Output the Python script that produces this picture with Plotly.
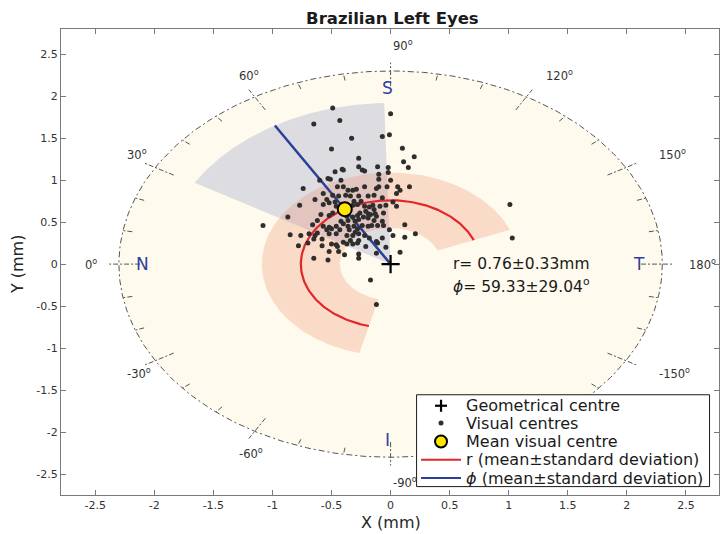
import numpy as np
import plotly.graph_objects as go

# ---------------- data (mm / degrees) ----------------
vis_x = [
    -0.49, 0.00, -0.65, -0.43, -0.07, -0.01, -0.33, -0.50, 0.10, -0.27,
    0.20, 0.11, -0.41, -0.40, -0.27, -0.24, -0.22, -0.11, -0.02, 0.15,
    -0.47, -0.53, -0.51, -0.42, -0.60, -0.10, -0.02, 0.00, -0.10, -0.74,
    -0.45, -0.40, -0.36, -0.32, -0.29, -0.22, -0.12, -0.10, -0.03, 0.06,
    0.16, 0.08, 0.05, -0.57, -0.49, -0.44, -0.38, -0.34, -0.27, -0.19,
    -0.14, -0.07, 0.02, 0.05, -0.64, -0.54, -0.52, -0.47, -0.31, -0.25,
    -0.77, -0.57, -0.46, -0.32, -0.28, -0.22, -0.18, -0.15, -0.09, -0.04,
    -0.14, -0.21, -0.26, -0.19, -0.17, -0.13, -0.12, -0.06, -0.87, -0.59,
    -0.49, -0.52, -0.37, -0.32, -0.28, -0.23, -0.19, -0.42, -0.36, -0.30,
    -0.27, -0.14, -0.07, -0.62, -1.08, -0.66, -0.57, -0.52, -0.46, -0.40,
    -0.36, -0.31, -0.24, -0.19, -0.16, -0.11, -0.06, 0.12, -0.54, -0.50,
    -0.43, -0.35, -0.28, -0.30, -0.01, 0.21, -0.85, -0.76, -0.69, -0.64,
    -0.62, -0.52, -0.46, -0.37, -0.32, -0.27, -0.22, 0.02, 0.12, -0.65,
    -0.58, -0.34, -0.27, -0.18, -0.12, -0.07, -0.40, -0.37, -0.32, -0.28,
    -0.70, -0.78, -0.58, -0.50, -0.46, -0.21, -0.11, -0.52, -0.44, -0.45,
    -0.04, -0.65, -0.53, -0.39, -0.27, -0.27, -0.12, 0.08, -0.17, -0.12,
    1.01, 1.03,
]
vis_y = [
    1.86, 1.79, 1.67, 1.71, 1.52, 1.54, 1.50, 1.37, 1.38, 1.26,
    1.28, 1.22, 1.13, 1.12, 1.16, 1.12, 1.11, 1.16, 1.15, 1.15,
    1.10, 1.02, 1.01, 1.00, 1.00, 1.07, 1.09, 1.00, 1.01, 0.90,
    0.92, 0.92, 0.88, 0.88, 0.89, 0.92, 0.90, 0.92, 0.92, 0.92,
    0.92, 0.88, 0.84, 0.84, 0.82, 0.81, 0.82, 0.81, 0.81, 0.81,
    0.82, 0.79, 0.74, 0.69, 0.77, 0.77, 0.73, 0.74, 0.75, 0.75,
    0.70, 0.71, 0.69, 0.70, 0.71, 0.69, 0.68, 0.70, 0.69, 0.70,
    0.65, 0.63, 0.61, 0.60, 0.59, 0.60, 0.57, 0.61, 0.56, 0.59,
    0.61, 0.58, 0.57, 0.56, 0.58, 0.56, 0.55, 0.51, 0.52, 0.51,
    0.53, 0.52, 0.51, 0.52, 0.46, 0.47, 0.45, 0.44, 0.45, 0.48,
    0.45, 0.45, 0.46, 0.45, 0.46, 0.46, 0.46, 0.47, 0.41, 0.42,
    0.41, 0.41, 0.42, 0.38, 0.41, 0.36, 0.35, 0.34, 0.36, 0.34,
    0.37, 0.36, 0.36, 0.34, 0.34, 0.36, 0.34, 0.34, 0.32, 0.30,
    0.30, 0.28, 0.28, 0.31, 0.27, 0.31, 0.26, 0.24, 0.24, 0.25,
    0.25, 0.22, 0.22, 0.24, 0.23, 0.21, 0.25, 0.15, 0.15, 0.21,
    0.20, 0.07, 0.05, 0.11, 0.12, 0.07, 0.13, 0.14, -0.19, -0.48,
    0.71, 0.31,
]

geo_centre_x = [0.0]
geo_centre_y = [0.0]
r_mean, r_sd = 0.76, 0.33
phi_mean, phi_sd = 59.33, 29.04
phi_span = [-76.0, 158.0]     # angular span of the visual centres (deg)
r_max = 1.92                  # largest radial distance of visual centres
outer_r = 2.3                 # reference circle

angle_tick_vals = [0, 30, 60, 90, 120, 150, 180, -150, -120, -90, -60, -30]
angle_tick_text = ["0", "30", "60", "90", "120", "150", "180",
                   "-150", "-120", "-90", "-60", "-30"]
quad_letters = ["S", "N", "T", "I"]
quad_angles = [90, 0, 180, -90]

title = "Brazilian Left Eyes"
legend_labels = ["Geometrical centre", "Visual centres", "Mean visual centre",
                 "r (mean\u00b1standard deviation)",
                 "<i>\u03d5</i> (mean\u00b1standard deviation)"]

FONT = "DejaVu Sans"

# angle convention: phi = 0 at left (nasal), 90 at top -> theta = 180 - phi
def pol(r, phi_deg):
    th = np.radians(180.0 - np.asarray(phi_deg, dtype=float))
    return np.asarray(r) * np.cos(th), np.asarray(r) * np.sin(th)

fig = go.Figure()

# cream disk
cx, cy = pol(outer_r, np.linspace(-180, 180, 361))
fig.add_trace(go.Scatter(x=cx, y=cy, mode="lines", fill="toself",
                         fillcolor="#fefaee", line=dict(width=0),
                         hoverinfo="skip", showlegend=False))

# angular sector (phi mean +/- sd) up to r_max
ph = np.linspace(phi_mean - phi_sd, phi_mean + phi_sd, 120)
wx, wy = pol(r_max, ph)
wx = np.concatenate([[0.0], wx, [0.0]])
wy = np.concatenate([[0.0], wy, [0.0]])
fig.add_trace(go.Scatter(x=wx, y=wy, mode="lines", fill="toself",
                         fillcolor="rgba(150,160,200,0.32)", line=dict(width=0),
                         hoverinfo="skip", showlegend=False))

# radial band (r mean +/- sd) over angular span
ph2 = np.linspace(phi_span[1], phi_span[0], 240)
ox, oy = pol(r_mean + r_sd, ph2)
ix, iy = pol(r_mean - r_sd, ph2[::-1])
fig.add_trace(go.Scatter(x=np.concatenate([ox, ix, ox[:1]]),
                         y=np.concatenate([oy, iy, oy[:1]]),
                         mode="lines", fill="toself",
                         fillcolor="rgba(240,140,100,0.28)", line=dict(width=0),
                         hoverinfo="skip", showlegend=False))

# dash-dot reference circle
fig.add_trace(go.Scatter(x=cx, y=cy, mode="lines",
                         line=dict(color="#555555", width=1, dash="6px,3px,2px,3px"),
                         hoverinfo="skip", showlegend=False))

# angular tick marks
tx, ty = [], []
for a in range(-180, 180, 10):
    if a % 30 == 0:
        x0, y0 = pol(2.12, a)
        x1, y1 = pol(2.40, a)
    else:
        x0, y0 = pol(2.22, a)
        x1, y1 = pol(outer_r, a)
    tx += [float(x0), float(x1), None]
    ty += [float(y0), float(y1), None]
fig.add_trace(go.Scatter(x=tx, y=ty, mode="lines",
                         line=dict(color="#555555", width=1, dash="5px,2px,2px,2px"),
                         hoverinfo="skip", showlegend=False))

# red arc (mean r)
ax_, ay_ = pol(r_mean, ph2)
fig.add_trace(go.Scatter(x=ax_, y=ay_, mode="lines",
                         line=dict(color="#e3262b", width=2.2),
                         hoverinfo="skip", showlegend=False))

# blue line (mean phi)
bx, by = pol([0.0, r_max], [phi_mean, phi_mean])
fig.add_trace(go.Scatter(x=bx, y=by, mode="lines",
                         line=dict(color="#2b3f97", width=2.5),
                         hoverinfo="skip", showlegend=False))

# visual centres
fig.add_trace(go.Scatter(x=vis_x, y=vis_y, mode="markers",
                         marker=dict(size=5, color="#2e2e2e"),
                         showlegend=False))

# mean visual centre
mx, my = pol(r_mean, phi_mean)
fig.add_trace(go.Scatter(x=[float(mx)], y=[float(my)], mode="markers",
                         marker=dict(size=14, color="#ffe600",
                                     line=dict(color="black", width=2)),
                         showlegend=False))

# geometrical centre
fig.add_trace(go.Scatter(x=geo_centre_x, y=geo_centre_y, mode="markers",
                         marker=dict(symbol="cross-thin", size=13,
                                     line=dict(color="black", width=2.2)),
                         showlegend=False))

annotations = []
# angle labels (left-anchored, like MATLAB text)
for v, t in zip(angle_tick_vals, angle_tick_text):
    if v == -120:
        continue  # hidden behind the legend box in the original
    lx, ly = pol(2.6, v)
    anchor = "left"
    if v == 180:
        # keep the label inside the page (right edge)
        lx, anchor = 2.77, "right"
    annotations.append(dict(x=float(lx), y=float(ly), xref="x", yref="y",
                            text=t + "<sup>o</sup>", showarrow=False,
                            xanchor=anchor, yanchor="middle",
                            font=dict(family=FONT, size=11.5, color="#333333")))
# quadrant letters
for L, a in zip(quad_letters, quad_angles):
    lx, ly = pol(2.1, a)
    annotations.append(dict(x=float(lx) - (0.03 if a in (90, -90) else 0.0),
                            y=float(ly), xref="x", yref="y",
                            text=L, showarrow=False, xanchor="center",
                            yanchor="middle",
                            font=dict(family=FONT, size=17, color="#2f3f9e")))
# stats text
annotations.append(dict(x=0.51, y=0.0, xref="x", yref="y", showarrow=False,
                        xanchor="left", yanchor="middle",
                        text=f"r= {r_mean:.2f}\u00b1{r_sd:.2f}mm",
                        font=dict(family=FONT, size=15.5, color="#1a1a1a")))
annotations.append(dict(x=0.51, y=-0.25, xref="x", yref="y", showarrow=False,
                        xanchor="left", yanchor="middle",
                        text=f"<i>\u03d5</i>= {phi_mean:.2f}\u00b1{phi_sd:.2f}<sup>o</sup>",
                        font=dict(family=FONT, size=15.5, color="#1a1a1a")))

# axis titles
annotations.append(dict(x=0.502, y=-0.058, xref="paper", yref="paper",
                        text="X (mm)", showarrow=False, xanchor="center",
                        yanchor="middle",
                        font=dict(family=FONT, size=16, color="#262626")))
annotations.append(dict(x=-0.065, y=0.496, xref="paper", yref="paper",
                        text="Y (mm)", showarrow=False, textangle=-90,
                        xanchor="center", yanchor="middle",
                        font=dict(family=FONT, size=16, color="#262626")))

# ---------------- manual legend ----------------
shapes = []
LX0, LX1, LY0, LY1 = 0.22, 2.70, -1.556, -2.65
shapes.append(dict(type="rect", xref="x", yref="y", x0=LX0, x1=LX1,
                   y0=LY0, y1=LY1, fillcolor="white",
                   line=dict(color="#1a1a1a", width=1), layer="above"))
row_y = [-1.687, -1.893, -2.112, -2.33, -2.548]
sym_x = 0.427
txt_x = 0.624
# cross
for (a0, a1, b0, b1) in [(-6, 6, 0, 0), (0, 0, -6, 6)]:
    shapes.append(dict(type="line", xref="x", yref="y", xsizemode="pixel",
                       ysizemode="pixel", xanchor=sym_x, yanchor=row_y[0],
                       x0=a0, x1=a1, y0=b0, y1=b1,
                       line=dict(color="black", width=2.2), layer="above"))
# dot
shapes.append(dict(type="circle", xref="x", yref="y", xsizemode="pixel",
                   ysizemode="pixel", xanchor=sym_x, yanchor=row_y[1],
                   x0=-2.5, x1=2.5, y0=-2.5, y1=2.5, fillcolor="#2e2e2e",
                   line=dict(width=0), layer="above"))
# yellow marker
shapes.append(dict(type="circle", xref="x", yref="y", xsizemode="pixel",
                   ysizemode="pixel", xanchor=sym_x, yanchor=row_y[2],
                   x0=-6, x1=6, y0=-6, y1=6, fillcolor="#ffe600",
                   line=dict(color="black", width=2), layer="above"))
# line samples
for yy, col in [(row_y[3], "#e3262b"), (row_y[4], "#2b3f97")]:
    shapes.append(dict(type="line", xref="x", yref="y", x0=0.258, x1=0.596,
                       y0=yy, y1=yy, line=dict(color=col, width=2),
                       layer="above"))
for yy, t in zip(row_y, legend_labels):
    annotations.append(dict(x=txt_x, y=yy, xref="x", yref="y", text=t,
                            showarrow=False, xanchor="left", yanchor="middle",
                            font=dict(family=FONT, size=16, color="#1a1a1a")))

xt = [-2.5, -2, -1.5, -1, -0.5, 0, 0.5, 1, 1.5, 2, 2.5]
xt_text = ["-2.5", "-2", "-1.5", "-1", "-0.5", "0", "0.5", "1", "1.5", "2", "2.5"]

axis_common = dict(showgrid=False, zeroline=False, showline=True,
                   linecolor="#7a7a7a", linewidth=1, mirror="ticks",
                   ticks="inside", ticklen=5, tickcolor="#7a7a7a",
                   tickfont=dict(family=FONT, size=11, color="#333333"),
                   tickvals=xt, ticktext=xt_text)

fig.update_layout(
    width=720, height=534,
    margin=dict(l=61, r=1, t=29, b=39),
    paper_bgcolor="white", plot_bgcolor="white",
    showlegend=False,
    title=dict(text=f"<b>{title}</b>", x=0.545, xanchor="center",
               y=1 - 18 / 534, yanchor="middle", yref="container",
               font=dict(family=FONT, size=16.5, color="#1a1a1a")),
    xaxis=dict(range=[-2.79, 2.78], **axis_common),
    yaxis=dict(range=[-2.75, 2.80], **axis_common),
    shapes=shapes,
    annotations=annotations,
)

fig.write_html("out.html")
